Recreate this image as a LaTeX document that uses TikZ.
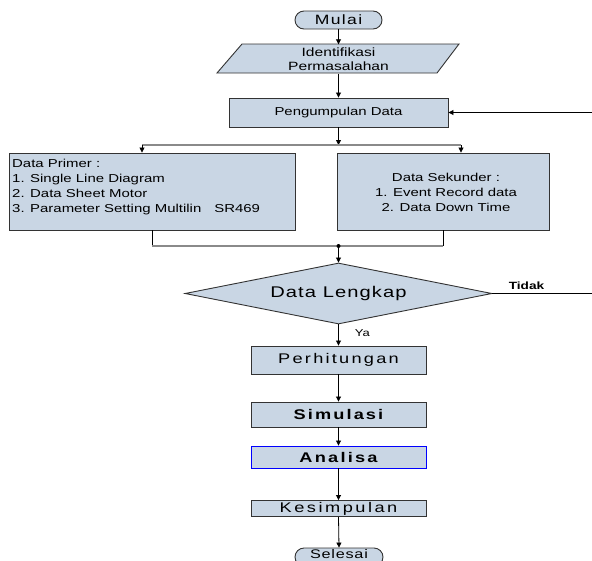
\documentclass[tikz,border=0pt]{standalone}
\usepackage{fontspec}
\setmainfont{Liberation Sans}[FakeStretch=1.3]
\usetikzlibrary{shapes.geometric,arrows.meta}
\definecolor{boxfill}{HTML}{C9D6E4}
\definecolor{boxline}{HTML}{333333}
\definecolor{splitline}{HTML}{8A8A8A}
\newcommand\lsp[1]{\addfontfeatures{LetterSpace=#1}}
\newcommand\fsz[1]{\fontsize{#1}{15}\selectfont}
\begin{document}
\begin{tikzpicture}[x=1pt,y=-1pt,
  base/.style={draw=boxline,fill=boxfill,line width=0.9pt,inner sep=0pt},
  procbox/.style={base,minimum width=175pt},
  term/.style={base,rounded corners=9pt,minimum width=87pt,minimum height=18pt},
  arr/.style={-{Triangle[length=5pt,width=5pt]},line width=0.8pt},
  conn/.style={line width=0.8pt},
  gconn/.style={line width=1.5pt,draw=splitline},
  lbl/.style={inner sep=0pt}
]
\useasboundingbox (0,0) rectangle (592,560);
\clip (0,0) rectangle (592,560);
\fill[white] (0,0) rectangle (592,560);

% start
\node[term,font=\fsz{13.5}\lsp{10}] (mulai) at (338.5,20) {Mulai};

% input
\draw[base] (242,44) -- (459,44) -- (437,73) -- (217,73) -- cycle;
\node[lbl,align=center,minimum width=200pt,minimum height=29pt,font=\fontsize{12}{14}\selectfont] (ident) at (338.5,59) {Identifikasi\\Permasalahan};

\node[base,minimum width=219pt,minimum height=29pt,font=\fsz{11.5}] (peng) at (338.5,112.5) {Pengumpulan Data};

% data boxes
\node[base,minimum width=286pt,minimum height=77pt] (primer) at (152,191.5) {};
\node[lbl,anchor=north west,align=left,font=\fsz{11.5}] (primertxt) at (12,158.5)
  {Data Primer :\\1. Single Line Diagram\\2. Data Sheet Motor\\3. Parameter Setting Multilin\hspace{13pt}SR469};
\node[base,minimum width=212pt,minimum height=77pt] (sek) at (443,191.5) {};
\node[lbl,align=center,font=\fsz{11.5}] (sektxt) at (446,192)
  {Data Sekunder :\\1. Event Record data\\2. Data Down Time};

% decision
\node[base,diamond,aspect=5,minimum width=307pt,minimum height=61pt,font=\fsz{15.5}\lsp{7}] (dec) at (338.5,293.5) {Data Lengkap};

% process chain
\node[procbox,minimum height=28pt,font=\fsz{14}\lsp{16}] (perh) at (338.5,360) {Perhitungan};
\node[procbox,minimum height=25pt,font=\fsz{14}\bfseries\lsp{15}] (sim) at (338.5,414.5) {Simulasi};
\node[procbox,draw=blue,minimum height=22pt,font=\fsz{14}\bfseries\lsp{16}] (ana) at (338.5,457) {Analisa};
\node[procbox,minimum height=16pt,font=\fsz{14}\lsp{18}] (kes) at (338.5,508.5) {Kesimpulan};
\node[term,minimum width=88pt] (selesai) at (339,557) {};
\node[lbl,anchor=base,font=\fsz{12.5}\lsp{6}] (selesaitxt) at (339,558) {Selesai};

% connectors
\draw[arr] (mulai.south) -- (ident.north);
\draw[arr] (ident.south) -- (peng.north);
\coordinate (split) at (338.5,145);
\coordinate (sl) at (142,145);
\coordinate (sr) at (461,145);
\draw[arr] (peng.south) -- (split);
\draw[gconn] (sl) -- (sr);
\draw[arr] (sl) -- (sl |- primer.north);
\draw[arr] (sr) -- (sr |- sek.north);

\coordinate (jl) at (152,246);
\coordinate (jr) at (443,246);
\coordinate (join) at (338.5,246);
\draw[conn] (primer.south) -- (jl);
\draw[conn] (sek.south) -- (jr);
\draw[gconn] (jl) -- (jr);
\fill (join) circle (2pt);
\draw[arr] (join) -- (dec.north);

\draw[arr] (dec.south) -- (perh.north)
  node[lbl,pos=0.4,anchor=west,xshift=16pt,font=\fsz{10}] (ya) {Ya};
\coordinate (fbb) at (595,293.5);
\coordinate (fbt) at (595,112.5);
\draw[arr] (dec.east) -- (fbb) -- (fbt) -- (peng.east);
\node[lbl,font=\fsz{10.5}\bfseries] (tidak) at (526.5,286) {Tidak};

\draw[arr] (perh.south) -- (sim.north);
\draw[arr] (sim.south) -- (ana.north);
\draw[arr] (ana.south) -- (kes.north);
\draw[arr] (kes.south) -- (selesai.north);
\end{tikzpicture}
\end{document}
